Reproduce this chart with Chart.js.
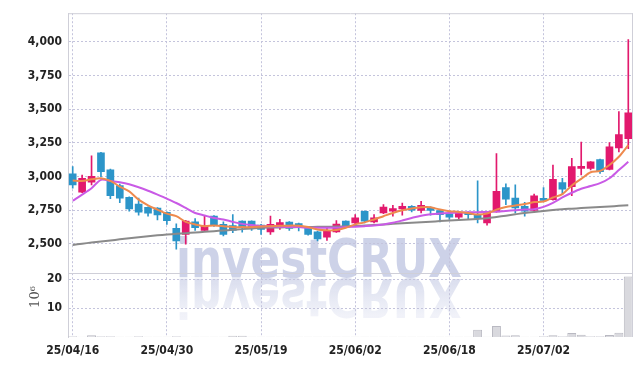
<!DOCTYPE html>
<html>
<head>
<meta charset="utf-8">
<script src="https://cdn.jsdelivr.net/npm/chart.js@4.4.1/dist/chart.umd.min.js"></script>
<style>
  body { margin: 0; background: #fff; }
</style>
</head>
<body>
<canvas id="chart" width="642" height="366"></canvas>
<script>
const dates = ['25/04/16','25/04/17','25/04/18','25/04/21','25/04/22','25/04/23','25/04/24','25/04/25','25/04/28','25/04/29',
  '25/04/30','25/05/02','25/05/07','25/05/08','25/05/09','25/05/12','25/05/13','25/05/14','25/05/15','25/05/16',
  '25/05/19','25/05/20','25/05/21','25/05/22','25/05/23','25/05/26','25/05/27','25/05/28','25/05/29','25/05/30',
  '25/06/02','25/06/04','25/06/05','25/06/09','25/06/10','25/06/11','25/06/12','25/06/13','25/06/16','25/06/17',
  '25/06/18','25/06/19','25/06/20','25/06/23','25/06/24','25/06/25','25/06/26','25/06/27','25/06/30','25/07/01',
  '25/07/02','25/07/03','25/07/04','25/07/07','25/07/08','25/07/09','25/07/10','25/07/11','25/07/14','25/07/15'];

const opens  = [3020,2885,2958,3176,3051,2934,2846,2796,2772,2767, 2735,2615,2571,2664,2601,2706,2645,2637,2669,2669,
                2640,2590,2630,2662,2652,2615,2590,2551,2590,2669, 2657,2743,2664,2730,2743,2760,2779,2748,2772,2748,
                2723,2699,2735,2713,2657,2738,2919,2840,2779,2748, 2833,2829,2956,2926,3061,3061,3127,3054,3213,3282];
const highs  = [3074,3012,3154,3180,3055,2945,2850,2840,2775,2770, 2738,2649,2675,2689,2706,2710,2664,2718,2672,2672,
                2645,2706,2682,2666,2655,2618,2595,2620,2674,2672, 2718,2745,2718,2792,2787,2804,2785,2816,2775,2750,
                2726,2733,2738,2968,2740,3171,2946,2939,2809,2870, 2919,3086,2988,3135,3257,3112,3130,3252,3483,4017];
const lows   = [2914,2880,2939,3000,2836,2807,2743,2713,2706,2679, 2645,2461,2498,2601,2598,2630,2559,2583,2588,2600,
                2571,2571,2608,2601,2596,2565,2522,2527,2585,2625, 2650,2657,2657,2725,2706,2713,2738,2730,2713,2664,
                2682,2682,2682,2657,2640,2735,2792,2730,2706,2745, 2816,2825,2866,2858,3012,3049,3024,3049,3184,3208];
const closes = [2939,2988,3002,3037,2858,2840,2760,2735,2728,2715, 2673,2522,2669,2620,2635,2640,2571,2601,2620,2620,
                2608,2645,2659,2615,2625,2571,2537,2601,2647,2632, 2693,2669,2693,2774,2763,2779,2750,2787,2748,2718,
                2699,2730,2718,2689,2738,2890,2833,2767,2743,2858, 2824,2980,2907,3074,3074,3110,3037,3221,3311,3473];

const ma5  = [2971,2968,2980,2988,2968,2926,2890,2829,2787,2755, 2725,2706,2664,2645,2632,2637,2632,2625,2625,2625,
              2630,2632,2635,2636,2635,2625,2608,2601,2603,2620, 2645,2660,2682,2706,2730,2750,2763,2772,2772,2755,
              2743,2738,2730,2718,2726,2755,2774,2785,2796,2811, 2815,2845,2870,2934,2983,3032,3042,3086,3147,3233];
const ma20 = [2821,2866,2914,2976,2968,2958,2943,2921,2895,2866, 2836,2804,2767,2730,2711,2693,2682,2664,2649,2640,
              2632,2630,2627,2626,2625,2620,2620,2620,2620,2625, 2628,2632,2637,2645,2657,2674,2693,2710,2720,2726,
              2730,2733,2735,2736,2738,2740,2745,2750,2755,2758, 2775,2805,2845,2880,2910,2930,2951,2988,3049,3110];
const ma60 = [2493,2502,2510,2518,2526,2534,2542,2550,2557,2564, 2570,2575,2580,2585,2590,2595,2600,2605,2610,2615,
              2620,2622,2623,2624,2625,2626,2627,2628,2629,2631, 2633,2637,2641,2645,2649,2653,2657,2661,2665,2670,
              2674,2678,2682,2686,2691,2700,2710,2720,2730,2738, 2745,2752,2758,2762,2766,2770,2774,2778,2783,2787];

// volume, millions of shares
const volumes = [0.3,0.1,0.6,0.3,0.3,0.05,0.05,0.3,0.05,0.05, 0.05,0.3,0.05,0.05,0.05,0.05,0.05,0.4,0.4,0.05,
                 0.05,0.05,0.05,0.05,0.05,0.05,0.05,0.05,0.05,0.05, 0.05,0.05,0.05,0.05,0.05,0.05,0.05,0.05,0.05,0.05,
                 0.05,0.05,0.05,2.5,0.05,3.8,0.5,0.6,0.05,0.05, 0.3,0.6,0.3,1.4,0.8,0.3,0.3,0.7,1.5,21.0];

const priceTicks = [2500, 2750, 3000, 3250, 3500, 3750, 4000];
const volumeTicks = [10, 20];
const labelEvery = 10;

const upColor = '#e2196d';
const downColor = '#2c95c9';
const gridColor = '#c4c4dc';
const frameColor = '#cfcfd8';
const tickFont = { family: 'DejaVu Sans Condensed', size: 12, weight: 'bold' };

const candleColors = opens.map((o, i) => closes[i] >= o ? upColor : downColor);

const frame = {
  id: 'frame',
  beforeDraw(chart) {
    const { ctx, chartArea: a } = chart;
    const top = chart.scales.y.bottom;
    ctx.save();
    ctx.font = 'bold 66px "DejaVu Sans"';
    const w = ctx.measureText('investCRUX').width;
    const sx = 286 / w;
    // watermark
    ctx.translate(176, 277);
    ctx.scale(sx, 0.82);
    ctx.fillStyle = 'rgba(196,202,228,0.85)';
    ctx.fillText('investCRUX', 0, 0);
    ctx.restore();
    // reflection
    ctx.save();
    ctx.beginPath();
    ctx.rect(a.left, top, a.right - a.left, a.bottom - top);
    ctx.clip();
    ctx.translate(176, 279);
    ctx.scale(sx, -0.82);
    const g = ctx.createLinearGradient(0, 0, 0, -50);
    g.addColorStop(0, 'rgba(214,218,236,0.9)');
    g.addColorStop(1, 'rgba(234,236,246,0.6)');
    ctx.fillStyle = g;
    ctx.font = 'bold 66px "DejaVu Sans"';
    ctx.fillText('investCRUX', 0, 0);
    ctx.restore();
  },
  afterDraw(chart) {
    const { ctx, chartArea: a } = chart;
    const sep = chart.scales.y.bottom;
    ctx.save();
    ctx.strokeStyle = frameColor;
    ctx.lineWidth = 1;
    ctx.beginPath();
    ctx.moveTo(a.left, a.top + 0.5); ctx.lineTo(a.right, a.top + 0.5);
    ctx.moveTo(a.right - 0.5, a.top); ctx.lineTo(a.right - 0.5, a.bottom);
    ctx.moveTo(a.left, Math.round(sep) + 0.5); ctx.lineTo(a.right, Math.round(sep) + 0.5);
    ctx.stroke();
    // volume unit
    ctx.translate(36, 297);
    ctx.rotate(-Math.PI / 2);
    ctx.fillStyle = '#555';
    ctx.font = '13px "DejaVu Serif"';
    ctx.textAlign = 'center';
    ctx.textBaseline = 'middle';
    ctx.fillText('10\u2076', 0, 0);
    ctx.restore();
  }
};

new Chart(document.getElementById('chart'), {
  data: {
    labels: dates,
    datasets: [
      { type: 'line', label: 'MA5', data: ma5, borderColor: '#ee8a4e', borderWidth: 2, pointRadius: 0, tension: 0.3, yAxisID: 'y', order: 0 },
      { type: 'line', label: 'MA20', data: ma20, borderColor: '#c95ae6', borderWidth: 2, pointRadius: 0, tension: 0.3, yAxisID: 'y', order: 0 },
      { type: 'line', label: 'MA60', data: ma60, borderColor: '#8a8a8a', borderWidth: 2, pointRadius: 0, tension: 0.3, yAxisID: 'y', order: 0 },
      { type: 'bar', label: 'body', data: opens.map((o, i) => [o, closes[i]]), backgroundColor: candleColors,
        barThickness: 7, minBarLength: 2, grouped: false, yAxisID: 'y', order: 1 },
      { type: 'bar', label: 'wick', data: lows.map((l, i) => [l, highs[i]]), backgroundColor: candleColors,
        barThickness: 1, grouped: false, yAxisID: 'y', order: 2 },
      { type: 'bar', label: 'volume', data: volumes, backgroundColor: '#d9d9de', borderColor: '#b9b9c2', borderWidth: 1,
        barPercentage: 1, categoryPercentage: 0.95, grouped: false, yAxisID: 'yv', order: 3 }
    ]
  },
  options: {
    responsive: false,
    animation: false,
    layout: { padding: { top: 10, right: 9, left: 0, bottom: 0 } },
    plugins: { legend: { display: false }, tooltip: { enabled: false } },
    scales: {
      x: {
        offset: true,
        grid: { offset: false, drawTicks: false, color: c => c.index % labelEvery === 0 ? gridColor : 'transparent' },
        border: { display: false, dash: [2, 2] },
        ticks: { autoSkip: false, maxRotation: 0, padding: 7, color: '#222', font: tickFont,
          callback: (v, i) => i % labelEvery === 0 ? dates[i] : '' },
        afterFit: s => { s.height = 29; }
      },
      yv: {
        position: 'left', stack: 'main', stackWeight: 65,
        min: 0, max: 22.3,
        afterBuildTicks: s => { s.ticks = volumeTicks.map(v => ({ value: v })); },
        grid: { drawTicks: false, color: gridColor },
        border: { color: frameColor, dash: [2, 2] },
        ticks: { padding: 6, color: '#222', font: tickFont },
        afterFit: s => { s.width = 68; }
      },
      y: {
        position: 'left', stack: 'main', stackWeight: 262,
        min: 2287, max: 4213,
        afterBuildTicks: s => { s.ticks = priceTicks.map(v => ({ value: v })); },
        grid: { drawTicks: false, color: gridColor },
        border: { color: frameColor, dash: [2, 2] },
        ticks: { padding: 6, color: '#222', font: tickFont, callback: v => v.toLocaleString('en-US') },
        afterFit: s => { s.width = 68; }
      }
    }
  },
  plugins: [frame]
});
</script>
</body>
</html>
